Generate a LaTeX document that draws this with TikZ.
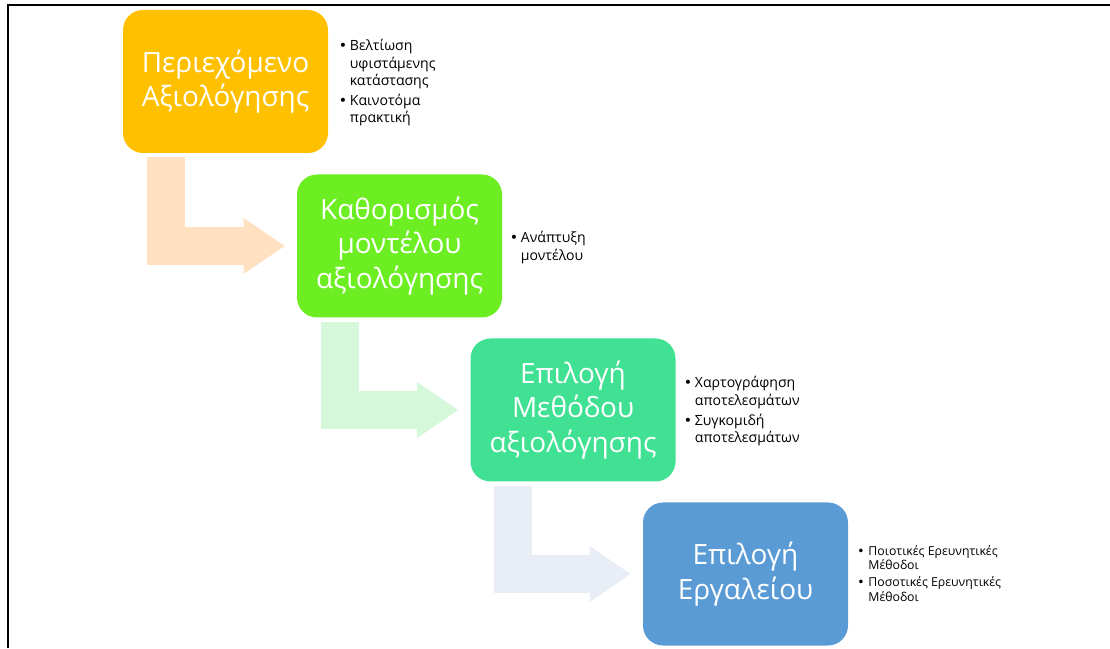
\documentclass[tikz,border=0pt]{standalone}
\usepackage{fontspec}
\setmainfont{Open Sans}
\newfontfamily\dotfont{DejaVu Sans}
\usepackage{tikz}
\usetikzlibrary{arrows.meta}

\definecolor{stageA}{HTML}{FFC000}
\definecolor{stageB}{HTML}{6CEE22}
\definecolor{stageC}{HTML}{41E194}
\definecolor{stageD}{HTML}{5B9BD5}
\definecolor{flowA}{HTML}{FFE0C1}
\definecolor{flowB}{HTML}{D6F8DA}
\definecolor{flowC}{HTML}{E9EEF6}

\newcommand{\bitem}{\makebox[6.3pt][l]{\dotfont •}}
\newcommand{\bmore}{\hspace*{6.3pt}}

\tikzset{
  stage/.style={fill=#1, rounded corners=0.4cm, minimum width=4.1cm, minimum height=2.86cm,
    inner sep=0pt, align=center, text=white, font=\fontsize{15.9}{19.5}\selectfont},
  flow/.style={line width=0.76cm, -{Triangle[length=0.82cm,width=1.12cm,line width=0pt]},
    shorten >=0.24cm},
  notes/.style={anchor=base west, inner sep=0pt, font=\fontsize{8}{9.7}\selectfont},
  smallnotes/.style={anchor=base west, inner sep=0pt, font=\fontsize{7}{8.5}\selectfont}
}

\begin{document}
\begin{tikzpicture}
  \useasboundingbox (0,0) rectangle (22.2,12.96);
  %\draw[step=1cm,gray,very thin] (0,0) grid (22,13);

  %frame
  \draw[line width=1.1pt] (0.16,0) -- (0.16,12.86) -- (22.2,12.86);

  %stages
  \node[stage=stageA] (ctx) at (4.51,11.33) {Περιεχόμενο\\Αξιολόγησης};
  \node[stage=stageB] (model) at (7.99,8.04) {Καθορισμός\\μοντέλου\\αξιολόγησης};
  \node[stage=stageC] (method) at (11.46,4.76) {Επιλογή\\Μεθόδου\\αξιολόγησης};
  \node[stage=stageD] (tool) at (14.91,1.48) {Επιλογή\\Εργαλείου};

  %bent arrows
  \draw[flow,flowA] ([shift={(0.86,-0.08)}]ctx.south west) |- (model.west);
  \draw[flow,flowB] ([shift={(0.86,-0.08)}]model.south west) |- (method.west);
  \draw[flow,flowC] ([shift={(0.86,-0.08)}]method.south west) |- (tool.west);

  %bullet notes
  \node[notes] (ctxnotes) at (6.77,11.94) {\begin{tabular}[t]{@{}l@{}}
    \bitem Βελτίωση\\ \bmore υφιστάμενης\\ \bmore κατάστασης\\[1.7pt]
    \bitem Καινοτόμα\\ \bmore πρακτική\end{tabular}};
  \node[notes] (modelnotes) at (10.19,8.10) {\begin{tabular}[t]{@{}l@{}}
    \bitem Ανάπτυξη\\ \bmore μοντέλου\end{tabular}};
  \node[notes] (methodnotes) at (13.67,5.20) {\begin{tabular}[t]{@{}l@{}}
    \bitem Χαρτογράφηση\\ \bmore αποτελεσμάτων\\[1.7pt]
    \bitem Συγκομιδή\\ \bmore αποτελεσμάτων\end{tabular}};
  \node[smallnotes] (toolnotes) at (17.14,1.86) {\begin{tabular}[t]{@{}l@{}}
    \bitem Ποιοτικές Ερευνητικές\\ \bmore Μέθοδοι\\[1pt]
    \bitem Ποσοτικές Ερευνητικές\\ \bmore Μέθοδοι\end{tabular}};

\end{tikzpicture}
\end{document}
